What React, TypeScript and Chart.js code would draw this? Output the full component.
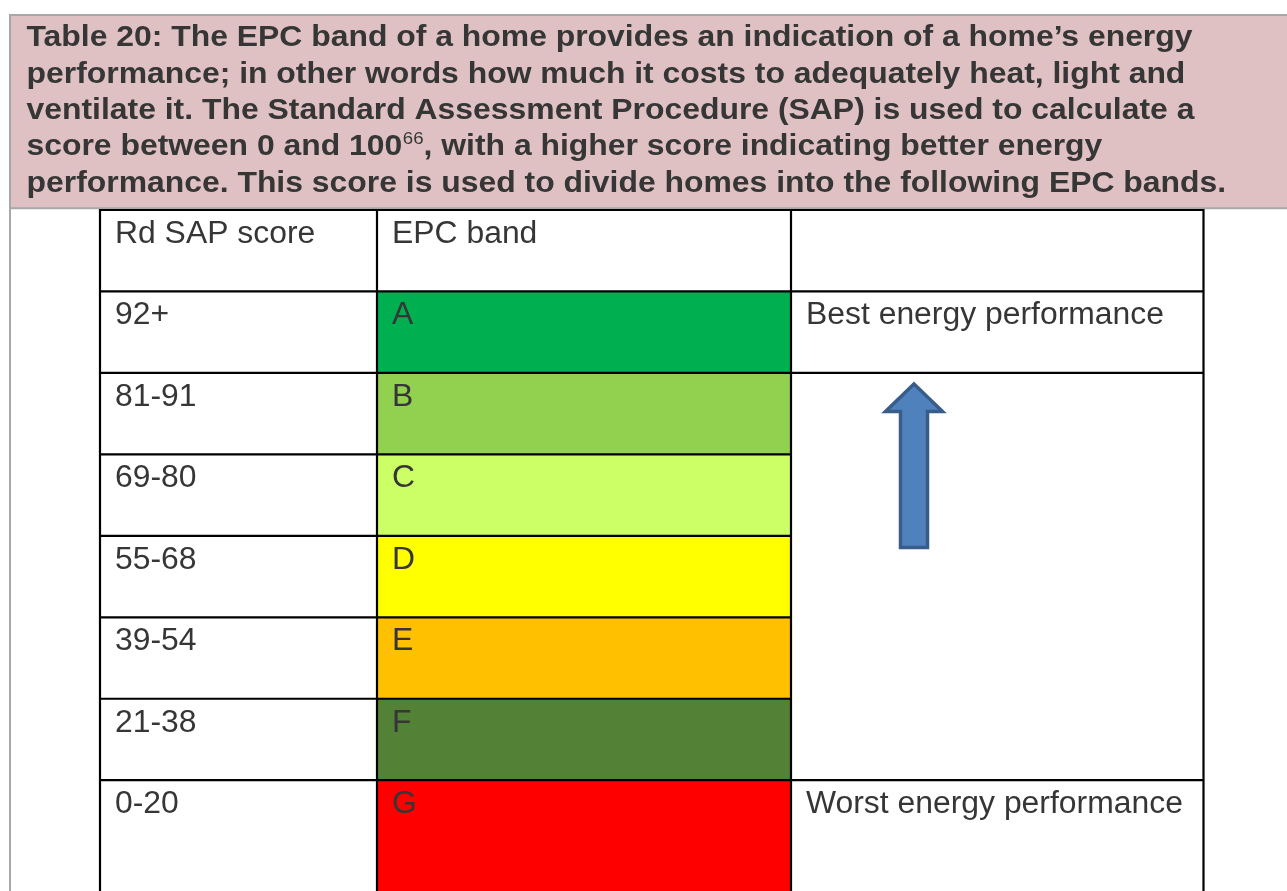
import React, { useEffect, useRef } from "react";
import { Chart, registerables } from "chart.js";

Chart.register(...registerables);

// ---- content ----
const titleLines: string[] = [
  "Table 20: The EPC band of a home provides an indication of a home’s energy",
  "performance; in other words how much it costs to adequately heat, light and",
  "ventilate it. The Standard Assessment Procedure (SAP) is used to calculate a",
  "",
  "performance. This score is used to divide homes into the following EPC bands.",
];
const titleLine4Parts: string[] = ["score between 0 and 100", "66", ", with a higher score indicating better energy"];

const headers: string[] = ["Rd SAP score", "EPC band", ""];
const sapScores: string[] = ["92+", "81-91", "69-80", "55-68", "39-54", "21-38", "0-20"];
const bands: string[] = ["A", "B", "C", "D", "E", "F", "G"];
const bandColors: string[] = ["#00b050", "#92d050", "#ccff66", "#ffff00", "#ffc000", "#538135", "#ff0000"];
const bandRowStart: number[] = [1, 2, 3, 4, 5, 6, 7];
const bandRowEnd: number[] = [2, 3, 4, 5, 6, 7, 9];
const notes: string[] = ["Best energy performance", "", "", "", "", "", "Worst energy performance"];
const visibleRows = 8.36;

// ---- layout ----
const W = 1287;
const H = 891;
const COL1_LEFT = 100;
const COL2_LEFT = 377;
const COL3_LEFT = 791;
const COL3_RIGHT = 1203.5;
const TABLE_TOP = 210;
const TEXT_COLOR = "#363636";
const FONT = '"Liberation Sans", Arial, Helvetica, sans-serif';

const tablePlugin = {
  id: "epcTable",
  beforeDatasetsDraw(chart: any) {
    const ctx: CanvasRenderingContext2D = chart.ctx;
    ctx.save();
    // caption box
    ctx.fillStyle = "#dfc1c3";
    ctx.fillRect(10, 15, W - 10, 193);
    ctx.strokeStyle = "#a8a8a8";
    ctx.lineWidth = 2;
    ctx.beginPath();
    ctx.moveTo(9, 15);
    ctx.lineTo(W, 15);
    ctx.moveTo(10, 14);
    ctx.lineTo(10, H);
    ctx.moveTo(9, 208.3);
    ctx.lineTo(W, 208.3);
    ctx.stroke();

    // caption text
    ctx.fillStyle = TEXT_COLOR;
    ctx.textBaseline = "alphabetic";
    ctx.textAlign = "left";
    const boldFont = `bold 29px ${FONT}`;
    ctx.font = boldFont;
    const sx = 1166 / ctx.measureText(titleLines[0]).width;
    const baselines = [46.3, 82.6, 119, 155.4, 191.7];
    const drawScaled = (text: string, x: number, y: number, font: string) => {
      ctx.save();
      ctx.font = font;
      ctx.translate(x, y);
      ctx.scale(sx, 1);
      ctx.fillText(text, 0, 0);
      const w = ctx.measureText(text).width * sx;
      ctx.restore();
      return w;
    };
    titleLines.forEach((line, i) => {
      if (i === 3) {
        let x = 26.5;
        x += drawScaled(titleLine4Parts[0], x, baselines[i], boldFont);
        x += drawScaled(titleLine4Parts[1], x + 0.5, baselines[i] - 11, `17px ${FONT}`) + 0.5;
        drawScaled(titleLine4Parts[2], x, baselines[i], boldFont);
      } else {
        drawScaled(line, 26.5, baselines[i], boldFont);
      }
    });
    ctx.restore();
  },
  afterDatasetsDraw(chart: any) {
    const ctx: CanvasRenderingContext2D = chart.ctx;
    const y = chart.scales.y;
    const rowPx = (r: number) => y.getPixelForValue(r);
    ctx.save();

    // grid lines
    ctx.strokeStyle = "#000";
    ctx.lineWidth = 2.2;
    ctx.beginPath();
    [0, 1, 2, 7].forEach((r) => {
      ctx.moveTo(COL1_LEFT - 1, rowPx(r));
      ctx.lineTo(COL3_RIGHT + 1, rowPx(r));
    });
    [3, 4, 5, 6].forEach((r) => {
      ctx.moveTo(COL1_LEFT - 1, rowPx(r));
      ctx.lineTo(COL3_LEFT + 1, rowPx(r));
    });
    [COL1_LEFT, COL2_LEFT, COL3_LEFT, COL3_RIGHT].forEach((x) => {
      ctx.moveTo(x, TABLE_TOP - 1);
      ctx.lineTo(x, H);
    });
    ctx.stroke();

    // cell text
    const font = `31px ${FONT}`;
    ctx.font = font;
    const tsx = 358 / ctx.measureText(notes[0]).width;
    ctx.fillStyle = TEXT_COLOR;
    ctx.textAlign = "left";
    ctx.textBaseline = "alphabetic";
    const put = (text: string, x: number, yy: number) => {
      if (!text) return;
      ctx.save();
      ctx.translate(x, yy);
      ctx.scale(tsx, 1);
      ctx.fillText(text, 0, 0);
      ctx.restore();
    };
    const cols = [COL1_LEFT + 15, COL2_LEFT + 15, COL3_LEFT + 15];
    headers.forEach((h, c) => put(h, cols[c], rowPx(0) + 33));
    sapScores.forEach((s, i) => {
      const base = rowPx(bandRowStart[i]) + 33;
      put(s, cols[0], base);
      put(bands[i], cols[1], base);
      put(notes[i], cols[2], base);
    });

    // upward arrow in merged cell
    ctx.beginPath();
    ctx.moveTo(914, 384);
    ctx.lineTo(942.5, 411.5);
    ctx.lineTo(927.5, 411.5);
    ctx.lineTo(927.5, 547.5);
    ctx.lineTo(900.5, 547.5);
    ctx.lineTo(900.5, 411.5);
    ctx.lineTo(885.5, 411.5);
    ctx.closePath();
    ctx.fillStyle = "#4f81bd";
    ctx.fill();
    ctx.strokeStyle = "#385d8a";
    ctx.lineWidth = 3.5;
    ctx.lineJoin = "miter";
    ctx.stroke();

    ctx.restore();
  },
};

export default function App() {
  const canvasRef = useRef<HTMLCanvasElement | null>(null);

  useEffect(() => {
    document.body.style.margin = "0";
    const canvas = canvasRef.current;
    if (!canvas) return;
    const chart = new Chart(canvas, {
      type: "bar",
      data: {
        labels: ["EPC band"],
        datasets: bands.map((b, i) => ({
          label: b,
          data: [[bandRowStart[i], bandRowEnd[i]]] as any,
          backgroundColor: bandColors[i],
          borderWidth: 0,
          grouped: false,
          barPercentage: 1,
          categoryPercentage: 1,
        })),
      },
      options: {
        responsive: false,
        animation: false,
        devicePixelRatio: 1,
        layout: {
          padding: { left: COL2_LEFT, right: W - COL3_LEFT, top: TABLE_TOP, bottom: 0 },
        },
        plugins: {
          legend: { display: false },
          tooltip: { enabled: false },
        },
        events: [],
        scales: {
          x: { type: "category", display: false, offset: true, grid: { display: false } },
          y: { type: "linear", display: false, reverse: true, min: 0, max: visibleRows },
        },
      },
      plugins: [tablePlugin],
    });
    return () => chart.destroy();
  }, []);

  return (
    <div style={{ position: "absolute", left: 0, top: 0, width: W, height: H, background: "#fff" }}>
      <canvas ref={canvasRef} width={W} height={H} style={{ display: "block", width: W, height: H }} />
    </div>
  );
}
